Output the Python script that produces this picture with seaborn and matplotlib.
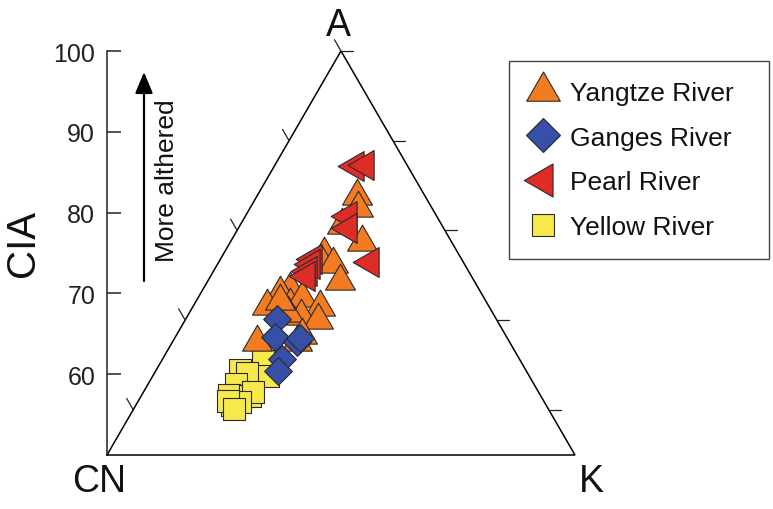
import numpy as np
import pandas as pd
import matplotlib
matplotlib.use("Agg")
import matplotlib.pyplot as plt
from matplotlib.path import Path
from matplotlib.markers import MarkerStyle
from matplotlib.lines import Line2D
import seaborn as sns

# ---------------- data (horizontal position along CN-K base, CIA) ----------------
yangtze_k = [53.4, 53.6, 50.2, 54.5, 46.4, 45.9, 48.3, 49.8, 39.1, 37.0, 34.2, 39.1,
             41.7, 45.5, 41.5, 45.1, 38.7, 32.1, 40.6, 41.7, 37.0]
yangtze_cia = [82.1, 80.6, 78.5, 76.4, 74.9, 73.8, 73.6, 71.5, 70.5, 70.0, 68.4, 68.6,
               69.4, 68.3, 67.2, 66.7, 67.6, 64.0, 64.0, 64.9, 69.1]

ganges_k = [36.3, 35.9, 40.6, 41.2, 37.4, 36.5]
ganges_cia = [66.8, 64.6, 64.0, 64.5, 61.9, 60.4]

pearl_k = [53.0, 55.1, 51.5, 51.5, 56.2, 44.0, 43.6, 42.9, 42.5]
pearl_cia = [85.8, 85.9, 79.6, 78.1, 73.9, 74.3, 73.6, 72.8, 72.2]

yellow_k = [33.3, 34.4, 28.4, 29.9, 27.6, 26.1, 30.6, 31.2, 26.7, 28.4, 25.9, 27.1]
yellow_cia = [61.6, 59.8, 60.5, 60.1, 58.8, 57.4, 57.3, 57.8, 56.2, 56.6, 56.7, 55.7]

series_names = ["Yangtze River", "Ganges River", "Pearl River", "Yellow River"]
series_colors = ["#F37B22", "#3550A6", "#DE2D27", "#F7E84C"]

cia_ticks = [60, 70, 80, 90, 100]
edge_tick_cia = [55.6, 66.7, 77.8, 88.9, 100.0]

# ---------------- style ----------------
sns.set_style("white")
plt.rcParams["font.family"] = ["Liberation Sans", "DejaVu Sans"]

fig = plt.figure(figsize=(7.73, 5.10), dpi=100)
W, H = 773, 510
ax = fig.add_axes([107 / W, 54 / H, 468 / W, 404 / H])
ax.set_xlim(0, 100)
ax.set_ylim(50, 100)
ax.patch.set_alpha(0)

# marker shapes
tri_up = Path([(0, 1.155), (-1, -0.577), (1, -0.577), (0, 1.155)],
              [Path.MOVETO, Path.LINETO, Path.LINETO, Path.CLOSEPOLY])
tri_left = Path([(-1.155, 0), (0.577, 1), (0.577, -1), (-1.155, 0)],
                [Path.MOVETO, Path.LINETO, Path.LINETO, Path.CLOSEPOLY])
m_up = MarkerStyle(tri_up)
m_left = MarkerStyle(tri_left)

edge = "#2a2a2a"

# triangle frame
ax.plot([0, 100, 50, 0], [50, 50, 100, 50], color="black", lw=1.1,
        clip_on=False, zorder=2, solid_joinstyle="miter")

# ticks along triangle edges (pixel-based lengths)
px_x = 468 / 100.0
px_y = 404 / 50.0
for c in edge_tick_cia:
    # left edge: tick parallel to K-A edge, pointing up-left
    x0 = c - 50
    L = 13
    ax.plot([x0, x0 - L * 0.5 / px_x], [c, c + L * 0.866 / px_y],
            color="#222222", lw=0.9, clip_on=False, zorder=2)
    # right edge: horizontal tick to the right
    x1 = 150 - c
    ax.plot([x1, x1 + 12 / px_x], [c, c], color="#222222", lw=0.9,
            clip_on=False, zorder=2)

# data points
groups = [
    (yellow_k, yellow_cia, "s", 230, series_colors[3], 3),
    (yangtze_k, yangtze_cia, m_up, 620, series_colors[0], 4),
    (ganges_k, ganges_cia, "D", 200, series_colors[1], 5),
    (pearl_k, pearl_cia, m_left, 620, series_colors[2], 6),
]
for xs, ys, mk, s, col, z in groups:
    df = pd.DataFrame({"K": xs, "CIA": ys})
    sns.scatterplot(data=df, x="K", y="CIA", marker=mk, s=s, color=col,
                    edgecolor=edge, linewidth=0.8, ax=ax, clip_on=False,
                    zorder=z, legend=False)

# left CIA axis
for sp in ["top", "right", "bottom"]:
    ax.spines[sp].set_visible(False)
ax.spines["left"].set_bounds(50, 100)
ax.spines["left"].set_linewidth(1.1)
ax.spines["left"].set_color("#222222")
ax.set_xticks([])
ax.set_yticks(cia_ticks)
ax.set_yticklabels([str(t) for t in cia_ticks])
ax.tick_params(axis="y", direction="in", length=10, width=1.1, pad=8.5,
               labelsize=18, colors="#222222", left=True)
ax.set_xlabel("")
ax.set_ylabel("CIA", fontsize=29, color="#111111")
ax.yaxis.set_label_coords(-0.139, 0.527)

# vertex labels
fig.text(338 / W, 1 - 26 / H, "A", fontsize=27, ha="center", va="center", color="#111111")
fig.text(99 / W, 1 - 482 / H, "CN", fontsize=27, ha="center", va="center", color="#111111")
fig.text(591 / W, 1 - 482 / H, "K", fontsize=27, ha="center", va="center", color="#111111")

# arrow and annotation
ax.annotate("", xy=(144, H - 73), xytext=(144, H - 282), xycoords="figure pixels",
            textcoords="figure pixels",
            arrowprops=dict(arrowstyle="-|>,head_length=0.65,head_width=0.27",
                            mutation_scale=20, lw=1.6, color="black",
                            shrinkA=0, shrinkB=0))
fig.text(167 / W, 1 - 181 / H, "More althered", fontsize=19, rotation=90,
         ha="center", va="center", color="#111111")

# legend
handles = [
    Line2D([], [], marker=m_up, linestyle="none", markersize=28,
           markerfacecolor=series_colors[0], markeredgecolor=edge, markeredgewidth=0.8),
    Line2D([], [], marker="D", linestyle="none", markersize=17.5,
           markerfacecolor=series_colors[1], markeredgecolor=edge, markeredgewidth=0.8),
    Line2D([], [], marker=m_left, linestyle="none", markersize=27.5,
           markerfacecolor=series_colors[2], markeredgecolor=edge, markeredgewidth=0.8),
    Line2D([], [], marker="s", linestyle="none", markersize=16.5,
           markerfacecolor=series_colors[3], markeredgecolor=edge, markeredgewidth=0.8),
]
leg = ax.legend(handles, series_names, loc="upper left",
                bbox_to_anchor=(509 / W, 1 - 259 / H, 260 / W, 197 / H),
                bbox_transform=fig.transFigure, mode="expand",
                fontsize=19, frameon=True, fancybox=False, framealpha=1,
                edgecolor="#444444", borderpad=0.75, labelspacing=0.79,
                handlelength=1.07, handletextpad=0.49, borderaxespad=0)
leg.get_frame().set_linewidth(1.0)
for t in leg.get_texts():
    t.set_color("#111111")

fig.savefig("out.png", dpi=100)
